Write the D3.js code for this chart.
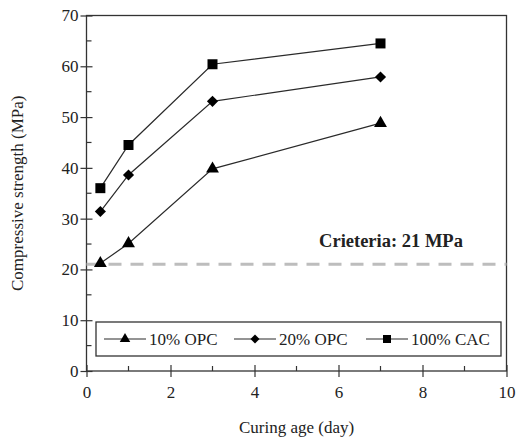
<!DOCTYPE html>
<html>
<head>
<meta charset="utf-8">
<script src="https://cdn.jsdelivr.net/npm/d3@7"></script>
<style>
body { margin: 0; background: #fff; }
</style>
</head>
<body>
<svg id="chart"></svg>
<script>
var width = 520;
var height = 441;
var serif = "'Liberation Serif', 'Times New Roman', Times, 'DejaVu Serif', serif";

// curing age in days
var ages = [0.33, 1, 3, 7];
var opc10 = [21.2, 25.1, 39.8, 48.8];
var opc20 = [31.4, 38.6, 53.1, 57.9];
var cac100 = [36.0, 44.5, 60.4, 64.5];
var criteria = 21;
var seriesNames = ["10% OPC", "20% OPC", "100% CAC"];
var xTicks = [0, 2, 4, 6, 8, 10];
var yTicks = [0, 10, 20, 30, 40, 50, 60, 70];

var margin = {top: 15.5, right: 13.5, bottom: 70, left: 86.5};

var svg = d3.select("#chart")
  .attr("width", width)
  .attr("height", height);

var x = d3.scaleLinear().domain([0, 10]).range([margin.left, width - margin.right]);
var y = d3.scaleLinear().domain([0, 70]).range([height - margin.bottom, margin.top]);

// marker shapes: triangle, diamond (rotated square), square
function marker(sel, s, big) {
  if (s == 0) {
    sel.attr("d", d3.symbol().type(d3.symbolTriangle).size(big ? 72 : 48));
  } else if (s == 1) {
    sel.attr("d", d3.symbol().type(d3.symbolSquare).size(big ? 62 : 40));
  } else {
    sel.attr("d", d3.symbol().type(d3.symbolSquare).size(big ? 100 : 64));
  }
}

// frame
svg.append("rect")
  .attr("x", x(0)).attr("y", y(70))
  .attr("width", x(10) - x(0)).attr("height", y(0) - y(70))
  .style("fill", "none").style("stroke", "#333").style("stroke-width", 1.3);

// minor ticks (inside)
d3.range(1, 10, 2).forEach(function(v) {
  svg.append("line")
    .attr("x1", x(v)).attr("x2", x(v))
    .attr("y1", y(0)).attr("y2", y(0) - 5)
    .style("stroke", "#333").style("stroke-width", 1.2);
});
d3.range(5, 70, 10).forEach(function(v) {
  svg.append("line")
    .attr("x1", x(0)).attr("x2", x(0) + 5)
    .attr("y1", y(v)).attr("y2", y(v))
    .style("stroke", "#333").style("stroke-width", 1.2);
});

// x axis (cross ticks)
var xAxis = svg.append("g")
  .attr("transform", "translate(0," + y(0) + ")")
  .call(d3.axisBottom(x).tickValues(xTicks).tickSize(6).tickFormat(d3.format("d")));
xAxis.selectAll(".tick line").attr("y1", -6).attr("y2", 6);
xAxis.select(".domain").remove();
xAxis.selectAll("text").attr("y", 15);

var yAxis = svg.append("g")
  .attr("transform", "translate(" + x(0) + ",0)")
  .call(d3.axisLeft(y).tickValues(yTicks).tickSize(6).tickFormat(d3.format("d")));
yAxis.selectAll(".tick line").attr("x1", -6).attr("x2", 6);
yAxis.select(".domain").remove();
yAxis.selectAll("text").attr("x", -8);

svg.selectAll(".tick line").style("stroke", "#333").style("stroke-width", 1.2);
svg.selectAll(".tick text")
  .style("font-family", serif).style("font-size", "17px").style("fill", "#222");

// criteria line
svg.append("line")
  .attr("x1", x(0)).attr("x2", x(10))
  .attr("y1", y(criteria)).attr("y2", y(criteria))
  .style("stroke", "#bdbdbd").style("stroke-width", 3)
  .style("stroke-dasharray", "13,9");

svg.append("text")
  .attr("x", x(7.25)).attr("y", y(criteria) - 17)
  .attr("text-anchor", "middle")
  .style("font-family", serif)
  .style("font-size", "18.5px").style("font-weight", "bold").style("fill", "#222")
  .text("Crieteria: 21 MPa");

var allSeries = [opc10, opc20, cac100];
var line = d3.line()
  .x(function(d, i) { return x(ages[i]); })
  .y(function(d) { return y(d); });

allSeries.forEach(function(vals, s) {
  svg.append("path")
    .attr("d", line(vals))
    .style("fill", "none").style("stroke", "#2a2a2a").style("stroke-width", 1.2);
  svg.selectAll(".pt" + s)
    .data(vals)
    .enter()
    .append("path")
    .call(marker, s, true)
    .attr("transform", function(d, i) {
      return "translate(" + x(ages[i]) + "," + y(d) + ")" + (s == 1 ? " rotate(45)" : "");
    })
    .style("fill", "#000");
});

// legend
var legX = 96, legY = 322, legW = 405, legH = 34;
svg.append("rect")
  .attr("x", legX).attr("y", legY).attr("width", legW).attr("height", legH)
  .style("fill", "#fff").style("stroke", "#333").style("stroke-width", 1.3);

var legStarts = [104, 234, 366];
seriesNames.forEach(function(name, s) {
  var lx = legStarts[s], ly = legY + legH / 2;
  svg.append("line")
    .attr("x1", lx).attr("x2", lx + 42)
    .attr("y1", ly).attr("y2", ly)
    .style("stroke", "#2a2a2a").style("stroke-width", 1.2);
  svg.append("path")
    .call(marker, s, false)
    .attr("transform", "translate(" + (lx + 21) + "," + ly + ")" + (s == 1 ? " rotate(45)" : ""))
    .style("fill", "#000");
  svg.append("text")
    .attr("x", lx + 45).attr("y", ly + 6)
    .style("font-family", serif)
    .style("font-size", "17px").style("fill", "#222")
    .text(name);
});

// axis titles
svg.append("text")
  .attr("x", (x(0) + x(10)) / 2).attr("y", 433)
  .attr("text-anchor", "middle")
  .style("font-family", serif)
  .style("font-size", "17px").style("fill", "#222")
  .text("Curing age (day)");

svg.append("text")
  .attr("transform", "translate(23," + (y(35)) + ") rotate(-90)")
  .attr("text-anchor", "middle")
  .style("font-family", serif)
  .style("font-size", "17px").style("fill", "#222")
  .text("Compressive strength (MPa)");
</script>
</body>
</html>
